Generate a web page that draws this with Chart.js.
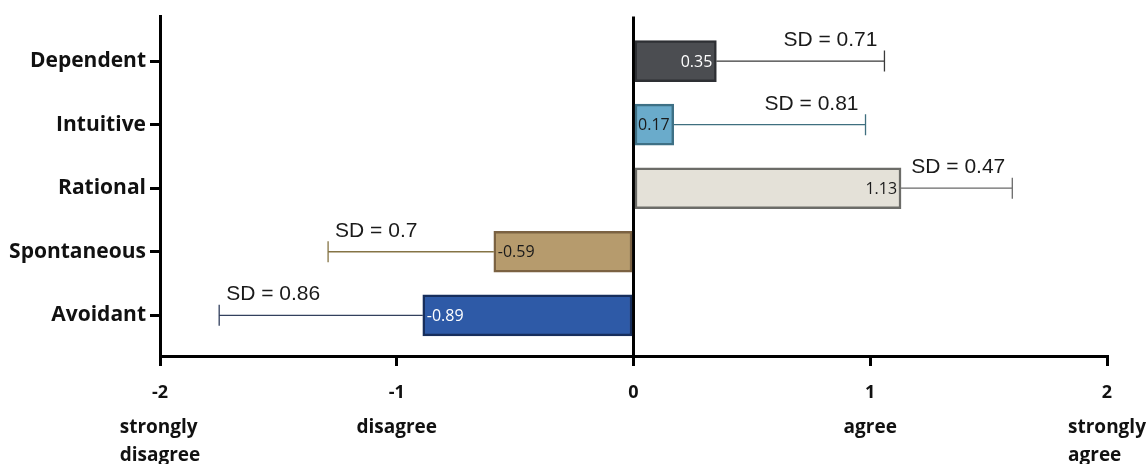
<!DOCTYPE html>
<html>
<head>
<meta charset="utf-8">
<script src="https://cdn.jsdelivr.net/npm/chart.js@4"></script>
<style>
  html, body { margin: 0; padding: 0; background: #fff; }
  #wrap { width: 1147px; height: 464px; position: relative; }
</style>
</head>
<body>
<div id="wrap"><canvas id="c"></canvas></div>
<script>
const categories = ['Dependent', 'Intuitive', 'Rational', 'Spontaneous', 'Avoidant'];
const means = [0.35, 0.17, 1.13, -0.59, -0.89];
const sds = [0.71, 0.81, 0.47, 0.7, 0.86];
const xTicks = [-2, -1, 0, 1, 2];
const xTickNotes = [['strongly', 'disagree'], ['disagree'], [], ['agree'], ['strongly', 'agree']];

// styles
const fills = ['#4b4d51', '#6aabcb', '#e4e1d8', '#b69b6d', '#2e5aa7'];
const borders = ['#2e3034', '#3e7085', '#6c6c68', '#7b6242', '#172e5c'];
const whiskers = ['#3a3a3a', '#3f6f7f', '#6a6a6a', '#857445', '#33405e'];
const valueInk = ['#ffffff', '#1a1a1a', '#1a1a1a', '#1a1a1a', '#ffffff'];

const decor = {
  id: 'decor',
  afterDatasetsDraw(chart) {
    const ctx = chart.ctx;
    const xs = chart.scales.x;
    chart.getDatasetMeta(0).data.forEach((bar, i) => {
      const v = means[i];
      const dir = v >= 0 ? 1 : -1;
      const end = xs.getPixelForValue(v + dir * sds[i]);
      ctx.save();
      // one-sided error bar
      ctx.strokeStyle = whiskers[i];
      ctx.lineWidth = 1.3;
      ctx.beginPath();
      ctx.moveTo(bar.x, bar.y);
      ctx.lineTo(end, bar.y);
      ctx.moveTo(end, bar.y - 10.5);
      ctx.lineTo(end, bar.y + 10.5);
      ctx.stroke();
      // value inside the bar
      ctx.font = '16px "Open Sans"';
      ctx.fillStyle = valueInk[i];
      ctx.textBaseline = 'middle';
      ctx.textAlign = dir > 0 ? 'right' : 'left';
      ctx.fillText(String(v), bar.x - dir * 4, bar.y + 1);
      // SD label
      ctx.font = '21px "Liberation Sans"';
      ctx.fillStyle = '#1a1a1a';
      ctx.textBaseline = 'alphabetic';
      ctx.fillText('SD = ' + sds[i], end - dir * 7, bar.y - 15);
      ctx.restore();
    });
  },
  afterDraw(chart) {
    const ctx = chart.ctx;
    const xs = chart.scales.x;
    ctx.save();
    ctx.font = 'bold 19px "Open Sans"';
    ctx.fillStyle = '#111';
    ctx.textAlign = 'left';
    ctx.textBaseline = 'alphabetic';
    xTicks.forEach((t, i) => {
      const lines = xTickNotes[i];
      if (!lines.length) return;
      const w = Math.max(...lines.map(l => ctx.measureText(l).width));
      const left = xs.getPixelForValue(t) - w / 2;
      lines.forEach((l, k) => ctx.fillText(l, left, xs.top + 77 + k * 28));
    });
    ctx.restore();
  }
};

function draw() {
  new Chart(document.getElementById('c'), {
    type: 'bar',
    data: {
      datasets: [{
        data: means.map((v, i) => ({ x: v, y: i })),
        backgroundColor: fills,
        borderColor: borders,
        borderWidth: 2.5,
        borderSkipped: false,
        barThickness: 41
      }]
    },
    options: {
      indexAxis: 'y',
      responsive: true,
      maintainAspectRatio: false,
      animation: false,
      layout: { padding: { top: 12, right: 40, left: 0, bottom: 0 } },
      plugins: { legend: { display: false }, tooltip: { enabled: false } },
      scales: {
        x: {
          type: 'linear',
          min: -2,
          max: 2,
          z: 1,
          afterBuildTicks: s => { s.ticks = xTicks.map(v => ({ value: v })); },
          afterFit: s => { s.height = 108; },
          border: { display: true, color: '#000', width: 3 },
          grid: {
            drawOnChartArea: true,
            color: c => (c.tick && c.tick.value === 0 ? '#000' : 'rgba(0,0,0,0)'),
            lineWidth: 3,
            tickLength: 10,
            tickWidth: 3,
            tickColor: '#000'
          },
          ticks: {
            callback: v => String(v),
            font: { family: 'Open Sans', weight: 'bold', size: 18 },
            color: '#111',
            padding: 16,
            maxRotation: 0
          }
        },
        y: {
          type: 'linear',
          reverse: true,
          offset: false,
          min: -0.7,
          max: 4.64,
          afterBuildTicks: s => { s.ticks = categories.map((c, i) => ({ value: i })); },
          afterFit: s => { s.width = 160; },
          border: { display: true, color: '#000', width: 3 },
          grid: { offset: false, drawOnChartArea: false, tickLength: 10, tickWidth: 3, tickColor: '#000' },
          ticks: {
            callback: v => categories[v],
            font: { family: 'Open Sans', weight: 'bold', size: 21 },
            color: '#111',
            padding: 4
          }
        }
      }
    },
    plugins: [decor]
  });
}

Promise.all([
  document.fonts.load('bold 21px "Open Sans"'),
  document.fonts.load('16px "Open Sans"'),
  document.fonts.load('21px "Liberation Sans"')
]).then(draw, draw);
</script>
</body>
</html>
